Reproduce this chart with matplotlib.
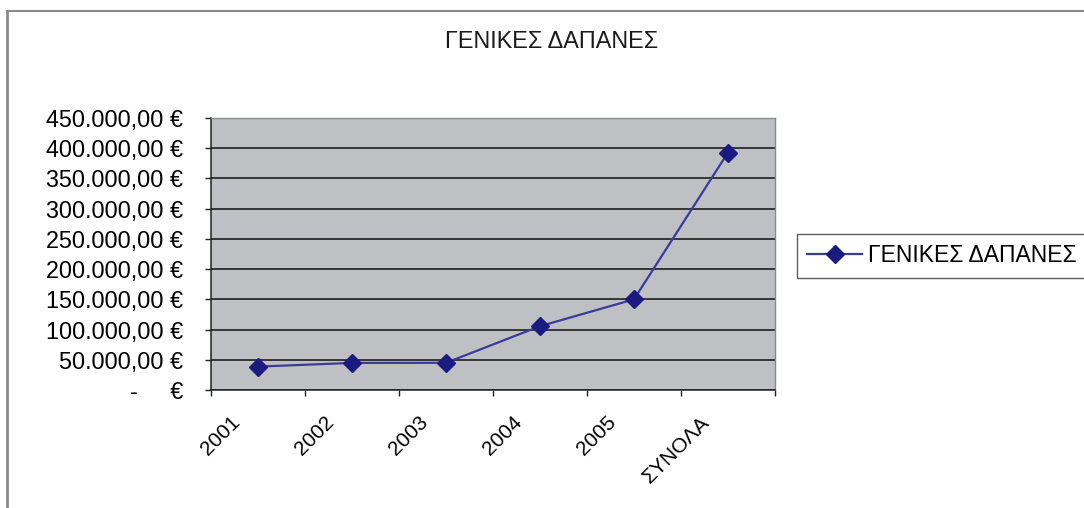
import matplotlib
matplotlib.use("Agg")
import matplotlib.pyplot as plt
from matplotlib.lines import Line2D
from matplotlib.transforms import ScaledTranslation

plt.rcParams['font.family'] = ['Liberation Sans', 'DejaVu Sans']

title = "ΓΕΝΙΚΕΣ ΔΑΠΑΝΕΣ"
series_name = "ΓΕΝΙΚΕΣ ΔΑΠΑΝΕΣ"
categories = ["2001", "2002", "2003", "2004", "2005", "ΣΥΝΟΛΑ"]
values = [38700, 44800, 45000, 105600, 150000, 392900]
y_ticks = [0, 50000, 100000, 150000, 200000, 250000, 300000, 350000, 400000, 450000]


def euro(v):
    if v == 0:
        return "-     €"
    s = f"{v:,.2f}".replace(",", "X").replace(".", ",").replace("X", ".")
    return s + " €"


fig = plt.figure(figsize=(10.84, 5.08), dpi=100)
fig.patch.set_facecolor("white")

W, H = 1084, 508
left, right, top, bottom = 211, 775, 118, 390
ax = fig.add_axes([left / W, (H - bottom) / H, (right - left) / W, (bottom - top) / H])
ax.set_facecolor("#bfc0c3")

x = [i + 0.5 for i in range(len(categories))]
ax.plot(x, values, color="#3b3b9c", linewidth=1.6, marker="D", markersize=9,
        markerfacecolor="#1a1a80", markeredgecolor="#1a1a80", zorder=3,
        label=series_name)

ax.set_xlim(0, len(categories))
ax.set_ylim(0, 450000)
ax.set_yticks(y_ticks)
ax.set_yticklabels([euro(v) for v in y_ticks])
ax.yaxis.grid(True, color="#111111", linewidth=1.1)
ax.set_axisbelow(True)

ax.set_xticks(range(len(categories) + 1))
ax.set_xticklabels([])
ax.set_xticks(x, minor=True)
ax.set_xticklabels(categories, minor=True, rotation=45, ha="right",
                   rotation_mode="anchor", fontsize=15)
ax.tick_params(axis="x", which="minor", length=0, pad=16)
ax.tick_params(axis="x", which="major", length=4.5, width=1, color="#222222", direction="out")
ax.tick_params(axis="y", length=4.5, width=1, color="#222222", pad=15.5, labelsize=16.8)
offset = ScaledTranslation(-28 / 100, 0, fig.dpi_scale_trans)
for lbl in ax.xaxis.get_minorticklabels():
    lbl.set_transform(lbl.get_transform() + offset)

for s in ["left", "bottom"]:
    ax.spines[s].set_color("#222222")
    ax.spines[s].set_linewidth(1.1)
for s in ["top", "right"]:
    ax.spines[s].set_color("#8a8a8a")
    ax.spines[s].set_linewidth(1.0)

fig.text(552 / W, 1 - 42 / H, title, ha="center", va="center", fontsize=16.8, color="#1a1a1a")

leg = fig.legend(handles=[Line2D([], [], color="#3b3b9c", linewidth=1.6, marker="D",
                                 markersize=9, markerfacecolor="#1a1a80",
                                 markeredgecolor="#1a1a80")],
                 labels=[series_name], loc="center left",
                 bbox_to_anchor=(797 / W, 1 - 256 / H), fontsize=16.5,
                 frameon=True, fancybox=False, handlelength=2.4, handletextpad=0.25,
                 borderpad=0.45, borderaxespad=0)
leg.get_frame().set_edgecolor("#333333")
leg.get_frame().set_linewidth(1.0)

# chart-area border (left and top visible)
fig.add_artist(Line2D([7 / W, 7 / W], [0, 1 - 11 / H], color="#8a8a8a", linewidth=2,
                      transform=fig.transFigure))
fig.add_artist(Line2D([7 / W, 1], [1 - 11 / H, 1 - 11 / H], color="#8a8a8a", linewidth=1.5,
                      transform=fig.transFigure))

fig.savefig("out.png", dpi=100, facecolor="white")
